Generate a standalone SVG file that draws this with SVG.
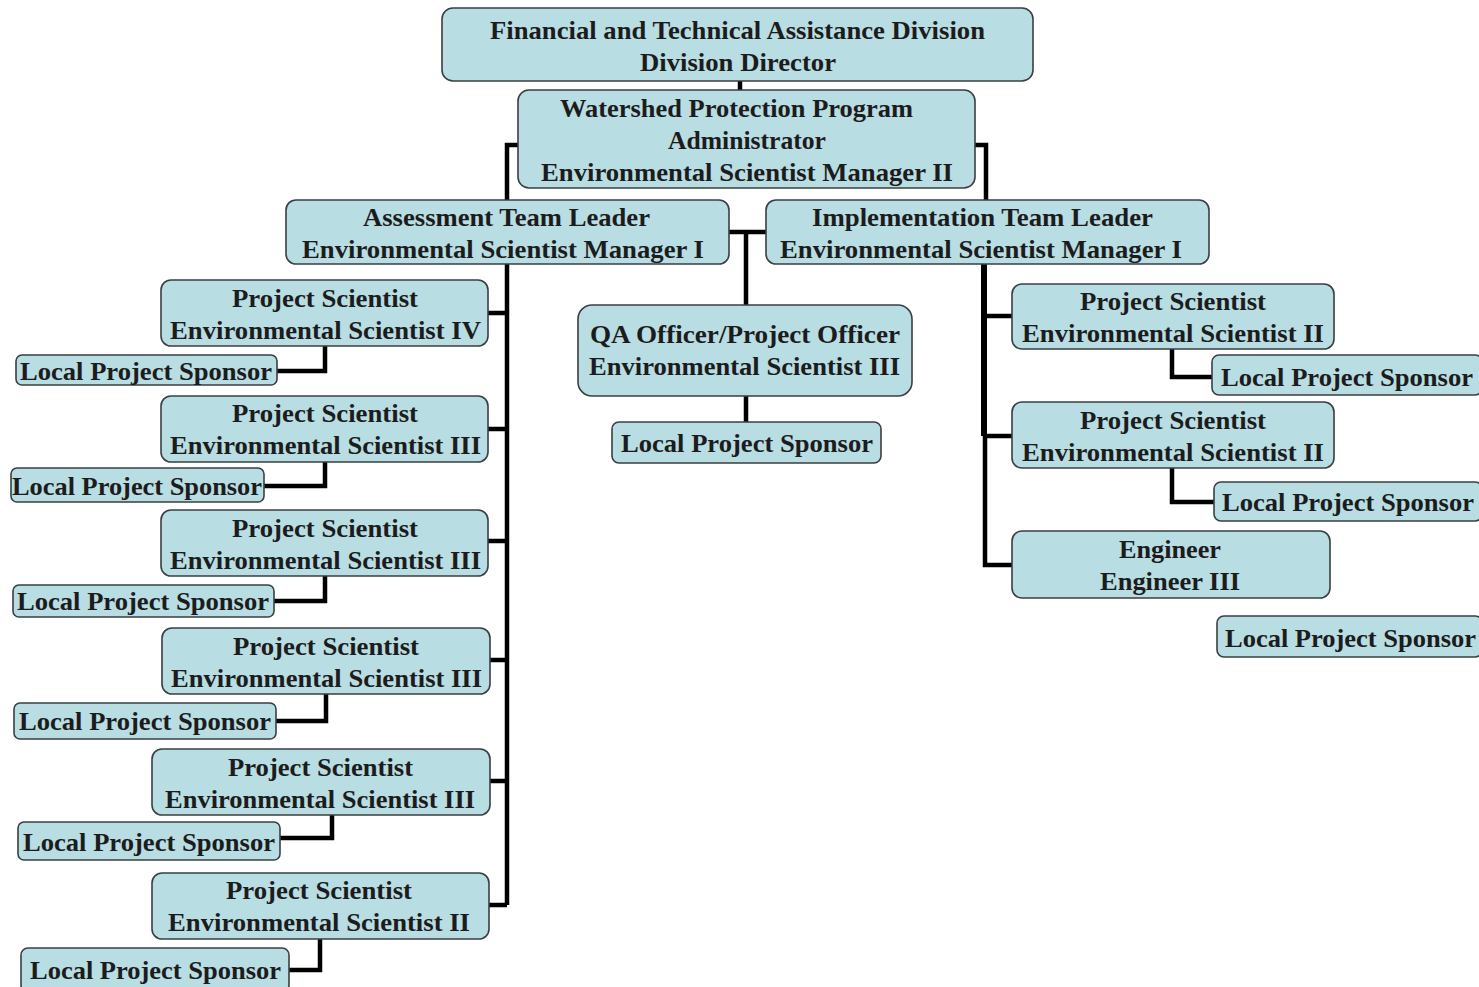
<svg xmlns="http://www.w3.org/2000/svg" width="1479" height="987" viewBox="0 0 1479 987">
<style>
.b{fill:#b8dde3;stroke:#3a3f42;stroke-width:1.6}
.t{font-family:"Liberation Serif","Times New Roman",serif;font-weight:bold;font-size:26px;fill:#1c1c1c}
.c{fill:none;stroke:#000;stroke-width:4.5;stroke-linejoin:miter}
</style>
<rect width="1479" height="987" fill="#fff"/>
<g id="connectors">
<path class="c" d="M740 81V90"/>
<path class="c" d="M518 145H507V905"/>
<path class="c" d="M975 145H986V200"/>
<path class="c" d="M729 232H766M746 232V305M746 396V422"/>
<path class="c" d="M488 313H507M488 429H507M488 541H507M490 660H507M490 781H507M489 905H507"/>
<path class="c" d="M325 346V371H277M325 462V486H264M325 576V601H274M326 694V721H276M332 815V838H280M320 939V970H289"/>
<path class="c" style="stroke-width:6" d="M984 264V436"/>
<path class="c" d="M984 316H1012M984 436H1012M985 436V565H1012"/>
<path class="c" d="M1172 349V377H1212M1172 468V502H1214"/>
</g>
<g id="n_director"><rect class="b" x="442" y="8" width="591" height="73" rx="11"/>
<text class="t" x="490" y="39" textLength="495" lengthAdjust="spacingAndGlyphs">Financial and Technical Assistance Division</text>
<text class="t" x="640" y="71" textLength="196" lengthAdjust="spacingAndGlyphs">Division Director</text></g>
<g id="n_admin"><rect class="b" x="518" y="90" width="457" height="98" rx="11"/>
<text class="t" x="560" y="117" textLength="353" lengthAdjust="spacingAndGlyphs">Watershed Protection Program</text>
<text class="t" x="668" y="149" textLength="158" lengthAdjust="spacingAndGlyphs">Administrator</text>
<text class="t" x="541" y="181" textLength="412" lengthAdjust="spacingAndGlyphs">Environmental Scientist Manager II</text></g>
<g id="n_assess"><rect class="b" x="286" y="200" width="443" height="64" rx="10"/>
<text class="t" x="363" y="226" textLength="287" lengthAdjust="spacingAndGlyphs">Assessment Team Leader</text>
<text class="t" x="302" y="258" textLength="402" lengthAdjust="spacingAndGlyphs">Environmental Scientist Manager I</text></g>
<g id="n_impl"><rect class="b" x="766" y="200" width="443" height="64" rx="10"/>
<text class="t" x="812" y="226" textLength="341" lengthAdjust="spacingAndGlyphs">Implementation Team Leader</text>
<text class="t" x="780" y="258" textLength="402" lengthAdjust="spacingAndGlyphs">Environmental Scientist Manager I</text></g>
<g id="n_qa"><rect class="b" x="578" y="305" width="334" height="91" rx="14"/>
<text class="t" x="590" y="343" textLength="310" lengthAdjust="spacingAndGlyphs">QA Officer/Project Officer</text>
<text class="t" x="589" y="375" textLength="311" lengthAdjust="spacingAndGlyphs">Environmental Scientist III</text></g>
<g id="n_qa_lps"><rect class="b" x="612" y="422" width="269" height="41" rx="7"/>
<text class="t" x="621" y="452" textLength="252" lengthAdjust="spacingAndGlyphs">Local Project Sponsor</text></g>
<g id="n_ps1"><rect class="b" x="161" y="280" width="327" height="66" rx="10"/>
<text class="t" x="232" y="307" textLength="186" lengthAdjust="spacingAndGlyphs">Project Scientist</text>
<text class="t" x="170" y="339" textLength="311" lengthAdjust="spacingAndGlyphs">Environmental Scientist IV</text></g>
<g id="n_lps1"><rect class="b" x="16" y="355" width="261" height="30" rx="6"/>
<text class="t" x="20" y="380" textLength="252" lengthAdjust="spacingAndGlyphs">Local Project Sponsor</text></g>
<g id="n_ps2"><rect class="b" x="161" y="396" width="327" height="66" rx="10"/>
<text class="t" x="232" y="422" textLength="186" lengthAdjust="spacingAndGlyphs">Project Scientist</text>
<text class="t" x="170" y="454" textLength="311" lengthAdjust="spacingAndGlyphs">Environmental Scientist III</text></g>
<g id="n_lps2"><rect class="b" x="11" y="468" width="253" height="34" rx="6"/>
<text class="t" x="12" y="495" textLength="250" lengthAdjust="spacingAndGlyphs">Local Project Sponsor</text></g>
<g id="n_ps3"><rect class="b" x="161" y="510" width="327" height="66" rx="10"/>
<text class="t" x="232" y="537" textLength="186" lengthAdjust="spacingAndGlyphs">Project Scientist</text>
<text class="t" x="170" y="569" textLength="311" lengthAdjust="spacingAndGlyphs">Environmental Scientist III</text></g>
<g id="n_lps3"><rect class="b" x="13" y="585" width="261" height="32" rx="6"/>
<text class="t" x="17" y="610" textLength="252" lengthAdjust="spacingAndGlyphs">Local Project Sponsor</text></g>
<g id="n_ps4"><rect class="b" x="162" y="628" width="328" height="66" rx="10"/>
<text class="t" x="233" y="655" textLength="186" lengthAdjust="spacingAndGlyphs">Project Scientist</text>
<text class="t" x="171" y="687" textLength="311" lengthAdjust="spacingAndGlyphs">Environmental Scientist III</text></g>
<g id="n_lps4"><rect class="b" x="14" y="703" width="262" height="36" rx="6"/>
<text class="t" x="19" y="730" textLength="252" lengthAdjust="spacingAndGlyphs">Local Project Sponsor</text></g>
<g id="n_ps5"><rect class="b" x="152" y="749" width="338" height="66" rx="10"/>
<text class="t" x="228" y="776" textLength="185" lengthAdjust="spacingAndGlyphs">Project Scientist</text>
<text class="t" x="165" y="808" textLength="310" lengthAdjust="spacingAndGlyphs">Environmental Scientist III</text></g>
<g id="n_lps5"><rect class="b" x="18" y="822" width="262" height="38" rx="6"/>
<text class="t" x="23" y="851" textLength="252" lengthAdjust="spacingAndGlyphs">Local Project Sponsor</text></g>
<g id="n_ps6"><rect class="b" x="152" y="873" width="337" height="66" rx="10"/>
<text class="t" x="226" y="899" textLength="186" lengthAdjust="spacingAndGlyphs">Project Scientist</text>
<text class="t" x="168" y="931" textLength="302" lengthAdjust="spacingAndGlyphs">Environmental Scientist II</text></g>
<g id="n_lps6"><rect class="b" x="21" y="948" width="268" height="44" rx="7"/>
<text class="t" x="30" y="979" textLength="251" lengthAdjust="spacingAndGlyphs">Local Project Sponsor</text></g>
<g id="n_rps1"><rect class="b" x="1012" y="284" width="322" height="65" rx="10"/>
<text class="t" x="1080" y="310" textLength="186" lengthAdjust="spacingAndGlyphs">Project Scientist</text>
<text class="t" x="1022" y="342" textLength="302" lengthAdjust="spacingAndGlyphs">Environmental Scientist II</text></g>
<g id="n_rlps1"><rect class="b" x="1212" y="355" width="270" height="40" rx="7"/>
<text class="t" x="1221" y="386" textLength="252" lengthAdjust="spacingAndGlyphs">Local Project Sponsor</text></g>
<g id="n_rps2"><rect class="b" x="1012" y="402" width="322" height="66" rx="10"/>
<text class="t" x="1080" y="429" textLength="186" lengthAdjust="spacingAndGlyphs">Project Scientist</text>
<text class="t" x="1022" y="461" textLength="302" lengthAdjust="spacingAndGlyphs">Environmental Scientist II</text></g>
<g id="n_rlps2"><rect class="b" x="1214" y="482" width="268" height="39" rx="7"/>
<text class="t" x="1222" y="511" textLength="252" lengthAdjust="spacingAndGlyphs">Local Project Sponsor</text></g>
<g id="n_eng"><rect class="b" x="1012" y="531" width="318" height="67" rx="10"/>
<text class="t" x="1119" y="558" textLength="102" lengthAdjust="spacingAndGlyphs">Engineer</text>
<text class="t" x="1100" y="590" textLength="140" lengthAdjust="spacingAndGlyphs">Engineer III</text></g>
<g id="n_rlps3"><rect class="b" x="1217" y="616" width="265" height="41" rx="7"/>
<text class="t" x="1225" y="647" textLength="251" lengthAdjust="spacingAndGlyphs">Local Project Sponsor</text></g>
</svg>
